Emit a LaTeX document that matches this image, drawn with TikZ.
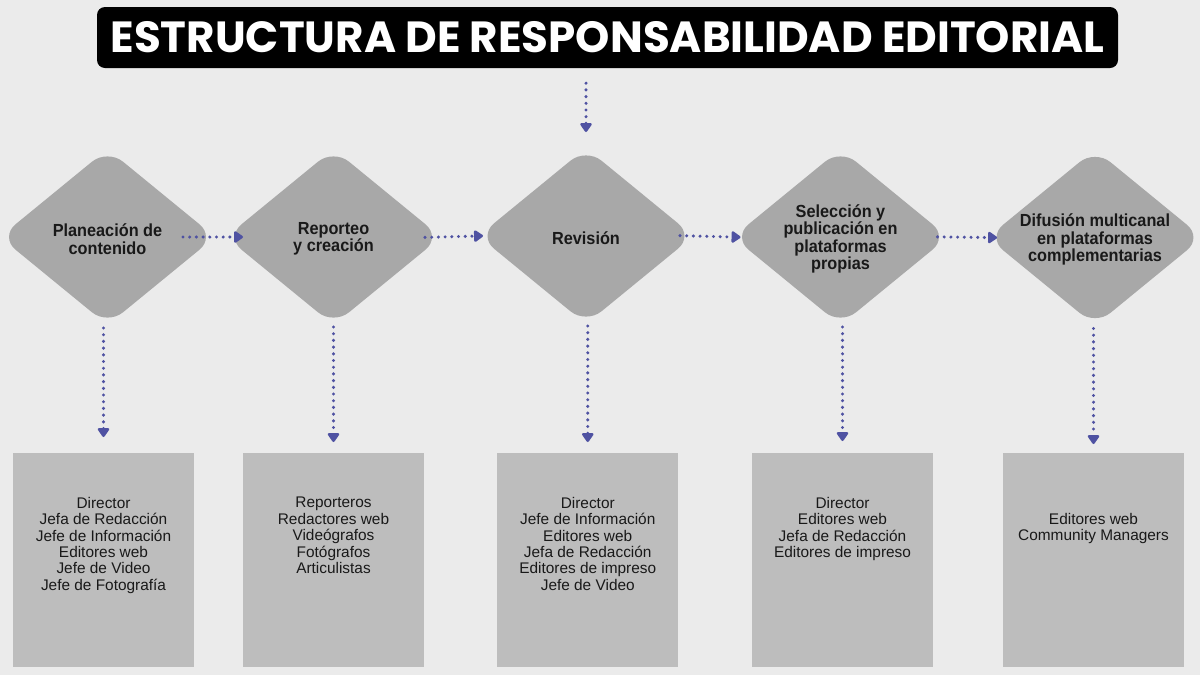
\documentclass[tikz,border=0pt]{standalone}
\usepackage{fontspec}
\setmainfont{Liberation Sans}
\newfontfamily\titlefont{Poppins}
\newfontfamily\stagefont{Liberation Sans}[FakeStretch=0.93]
\usetikzlibrary{shapes.geometric,arrows.meta}
\definecolor{bggray}{HTML}{EBEBEB}
\definecolor{diamondgray}{HTML}{A8A8A8}
\definecolor{boxgray}{HTML}{BDBDBD}
\definecolor{flowblue}{HTML}{4F52A2}
\tikzset{
  stage/.style={diamond, fill=diamondgray, rounded corners=20pt, minimum width=215pt, minimum height=176pt, inner sep=0pt, outer sep=0pt},
  stagetext/.style={font=\stagefont\bfseries\fontsize{17.5}{17.5}\selectfont, align=center, text=black!90, yshift=-2pt},
  rolebox/.style={rectangle, fill=boxgray, minimum width=181pt, minimum height=214pt, inner sep=0pt, outer sep=0pt},
  roletext/.style={font=\fontsize{15.4}{16.4}\selectfont, align=center, anchor=north, inner sep=0pt, text=black!90},
  flow/.style={draw=flowblue, line width=3.4pt, line cap=round, dash pattern=on 0pt off 6.7pt, -{Triangle[length=10pt,width=13pt,round]}}
}
\begin{document}
\begin{tikzpicture}[x=1pt,y=-1pt]
\fill[bggray] (0,0) rectangle (1200,675);
\useasboundingbox (0,0) rectangle (1200,675);
\node[fill=black, rounded corners=8pt, minimum width=1021pt, minimum height=61pt, inner sep=0pt, text=white, font=\titlefont\bfseries\fontsize{43.6}{43.6}\selectfont] (title) at (607.5,37.5) {ESTRUCTURA DE RESPONSABILIDAD EDITORIAL};
\node[stage] (d1) at (107.5,237) {};
\node[stage] (d2) at (333.5,237) {};
\node[stage] (d3) at (586,236) {};
\node[stage] (d4) at (840.5,237) {};
\node[stage] (d5) at (1095,237.5) {};
\node[stagetext] (t1) at (d1) {Planeación de\\contenido};
\node[stagetext] (t2) at (d2) {Reporteo\\y creación};
\node[stagetext] (t3) at (d3) {Revisión};
\node[stagetext] (t4) at (d4) {Selección y\\publicación en\\plataformas\\propias};
\node[stagetext] (t5) at (d5) {Difusión multicanal\\en plataformas\\complementarias};
\node[rolebox] (b1) at (103.5,560) {};
\node[rolebox] (b2) at (333.5,560) {};
\node[rolebox] (b3) at (587.75,560) {};
\node[rolebox] (b4) at (842.5,560) {};
\node[rolebox] (b5) at (1093.5,560) {};
\node[roletext] (r1) at ([yshift=-44pt]b1.north) {Director\\Jefa de Redacción\\Jefe de Información\\Editores web\\Jefe de Video\\Jefe de Fotografía};
\node[roletext] (r2) at ([yshift=-44pt]b2.north) {Reporteros\\Redactores web\\Videógrafos\\Fotógrafos\\Articulistas};
\node[roletext] (r3) at ([yshift=-44pt]b3.north) {Director\\Jefe de Información\\Editores web\\Jefa de Redacción\\Editores de impreso\\Jefe de Video};
\node[roletext] (r4) at ([yshift=-44pt]b4.north) {Director\\Editores web\\Jefa de Redacción\\Editores de impreso};
\node[roletext] (r5) at ([yshift=-60pt]b5.north) {Editores web\\Community Managers};
\draw[flow, shorten <=15pt, shorten >=16pt] (d3.north |- title.south) -- (d3.north);
\draw[flow, shorten <=-32pt, shorten >=-17pt] (d1.east) -- (d2.west);
\draw[flow, shorten <=-16pt, shorten >=-4.5pt] (d2.east) -- (d3.west);
\draw[flow, shorten <=-13.5pt, shorten >=-7.5pt] (d3.east) -- (d4.west);
\draw[flow, shorten <=-10.5pt, shorten >=-9.5pt] (d4.east) -- (d5.west);
\draw[flow, shorten <=3pt, shorten >=16pt] (b1.north |- d1.south) -- (b1.north);
\draw[flow, shorten <=2pt, shorten >=11pt] (b2.north |- d2.south) -- (b2.north);
\draw[flow, shorten <=2pt, shorten >=11pt] (b3.north |- d3.south) -- (b3.north);
\draw[flow, shorten <=2pt, shorten >=12pt] (b4.north |- d4.south) -- (b4.north);
\draw[flow, shorten <=3pt, shorten >=9pt] (b5.north |- d5.south) -- (b5.north);
\end{tikzpicture}
\end{document}
